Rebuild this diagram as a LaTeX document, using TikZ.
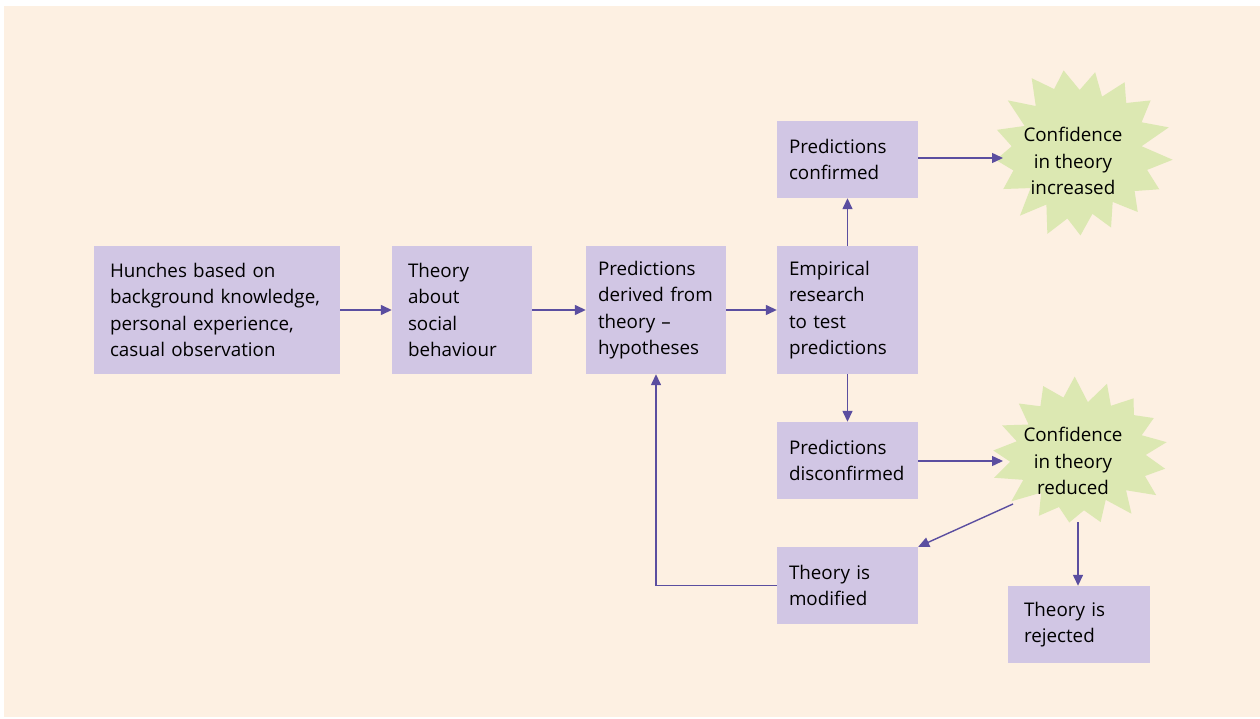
\documentclass[tikz,border=0pt]{standalone}
\usepackage{fontspec}
\setmainfont{Open Sans}
\usetikzlibrary{arrows.meta}
\definecolor{bgc}{HTML}{FDF0E2}
\definecolor{boxc}{HTML}{D1C6E4}
\definecolor{starc}{HTML}{DCE8B2}
\definecolor{arrc}{HTML}{5B4EA0}
\tikzset{
  box/.style 2 args={fill=boxc, inner xsep=12pt, inner ysep=0pt, minimum width=#1pt, minimum height=#2pt, text width=#1pt-24pt, align=left, font=\fontsize{18.8}{26.5}\selectfont},
  startext/.style={align=center, font=\fontsize{18.8}{26.5}\selectfont},
  conn/.style={draw=arrc, line width=1.4pt, -{Triangle[length=11pt,width=10pt]}},
  declare function={sr(\k)=(mod(\k,2)==0) ? (1-0.09*abs(sin(\k*73))) : (0.71+0.05*sin(\k*51));}
}
\begin{document}
\begin{tikzpicture}[x=1pt,y=-1pt]
\useasboundingbox (0,0) rectangle (1260,719);
\fill[bgc] (4,6) rectangle (1260,717);
% stars
\fill[starc] plot[samples at={0,...,33}, variable=\k] ({1080+93*sr(\k)*cos(\k*360/34+5)},{152+89*sr(\k)*sin(\k*360/34+5)}) -- cycle;
\fill[starc] plot[samples at={0,...,33}, variable=\k] ({1080+93*sr(\k+7)*cos(\k*360/34+2)},{453+77*sr(\k+7)*sin(\k*360/34+2)}) -- cycle;
\node[startext] (s1) at (1073,161) {Confidence\\in theory\\increased};
\node[startext] (s2) at (1073,461) {Confidence\\in theory\\reduced};
\coordinate (s1in) at (1003,158);
\coordinate (s2in) at (1003,461);
\coordinate (s2a) at (1013,504);
\coordinate (s2b) at (1078,522);
% boxes
\node[box={246}{128}, inner xsep=16pt, text width=214pt] (b1) at (217,310) {Hunches based on\\background knowledge,\\personal experience,\\casual observation};
\node[box={140}{128}, inner xsep=16pt, text width=108pt] (b2) at (462,310) {Theory\\about\\social\\behaviour};
\node[box={140}{128}] (b3) at (656,310) {Predictions\\derived from\\theory --\\hypotheses};
\node[box={141}{128}] (b4) at (847.5,310) {Empirical\\research\\to test\\predictions};
\node[box={141}{77}] (conf) at (847.5,159.5) {Predictions\\confirmed};
\node[box={141}{77}] (disc) at (847.5,460.5) {Predictions\\disconfirmed};
\node[box={141}{77}] (mod) at (847.5,585.5) {Theory is\\modified};
\node[box={142}{77}, inner xsep=16pt, text width=110pt] (rej) at (1079,624.5) {Theory is\\rejected};
% connectors
\draw[conn] (b1) -- (b2);
\draw[conn] (b2) -- (b3);
\draw[conn] (b3) -- (b4);
\draw[conn] (b4) -- (conf);
\draw[conn] (b4) -- (disc);
\draw[conn] (conf.east |- s1in) -- (s1in);
\draw[conn] (disc.east |- s2in) -- (s2in);
\draw[conn] (s2a) -- (mod.north east);
\draw[conn] (s2b) -- (s2b |- rej.north);
\draw[conn] (mod.west) -- (mod.west -| b3.south) -- (b3.south);
\end{tikzpicture}
\end{document}
